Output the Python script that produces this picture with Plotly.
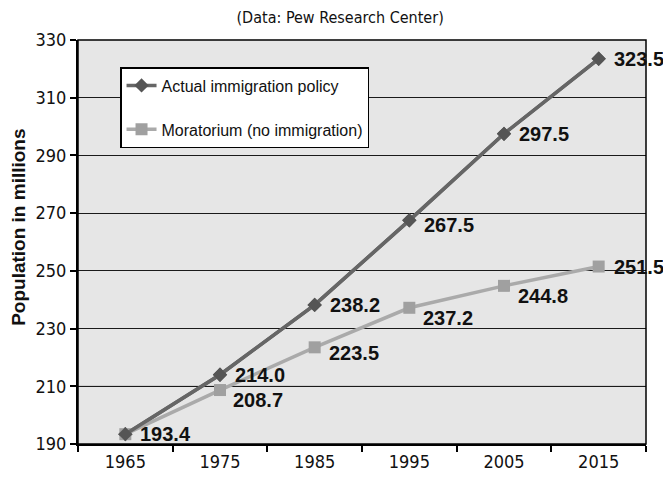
import plotly.graph_objects as go

years = ["1965", "1975", "1985", "1995", "2005", "2015"]
actual = [193.4, 214.0, 238.2, 267.5, 297.5, 323.5]
moratorium = [193.4, 208.7, 223.5, 237.2, 244.8, 251.5]
actual_labels = ["193.4", "214.0", "238.2", "267.5", "297.5", "323.5"]
moratorium_labels = ["", "208.7", "223.5", "237.2", "244.8", "251.5"]
y_ticks = [190, 210, 230, 250, 270, 290, 310, 330]

narrow = "Liberation Sans Narrow, DejaVu Sans Condensed, Arial Narrow, sans-serif"
label_font = dict(family="Arial, Liberation Sans", size=20, color="#111")

fig = go.Figure()
fig.add_trace(go.Scatter(
    x=years, y=actual, mode="lines+markers", name="Actual immigration policy",
    legendgroup="a",
    line=dict(color="#666666", width=3.5),
    marker=dict(symbol="diamond", size=11, color="#555555"),
))
fig.add_trace(go.Scatter(
    x=years, y=moratorium, mode="lines+markers", name="Moratorium (no immigration)",
    legendgroup="m",
    line=dict(color="#aaaaaa", width=3.5),
    marker=dict(symbol="square", size=12, color="#a0a0a0"),
))
# redraw actual on top
fig.add_trace(go.Scatter(
    x=years, y=actual, mode="lines+markers", showlegend=False,
    line=dict(color="#666666", width=3.5),
    marker=dict(symbol="diamond", size=11, color="#555555"),
    hoverinfo="skip",
))

annotations = []
a_shift = [(13, 0), (13, 0), (13, 0), (13, -5), (13, 0), (13, 0)]
for i, (y, t, (dx, dy)) in enumerate(zip(actual, actual_labels, a_shift)):
    annotations.append(dict(x=i, y=y, text="<b>" + t + "</b>", showarrow=False,
                            xanchor="left", yanchor="middle", xshift=dx, yshift=dy,
                            font=label_font))
m_shift = [(0, 0), (11, -10), (12, -6), (12, -10), (12, -10), (13, 0)]
for i, (y, t, (dx, dy)) in enumerate(zip(moratorium, moratorium_labels, m_shift)):
    if t:
        annotations.append(dict(x=i, y=y, text="<b>" + t + "</b>", showarrow=False,
                                xanchor="left", yanchor="middle", xshift=dx, yshift=dy,
                                font=label_font))

annotations.append(dict(text="<b>Population in millions</b>", textangle=-90,
                        xref="paper", yref="paper", x=-0.106, y=0.537,
                        xanchor="center", yanchor="middle", showarrow=False,
                        font=dict(family="Arial, Liberation Sans", size=19, color="#111")))

fig.update_layout(
    width=663, height=478,
    margin=dict(l=78, r=17, t=40, b=34, autoexpand=False),
    paper_bgcolor="white",
    plot_bgcolor="#e6e6e6",
    title=dict(text="(Data: Pew Research Center)", x=0.513, xanchor="center",
               y=0.964, yanchor="middle",
               font=dict(family=narrow, size=16, color="#111")),
    showlegend=True,
    legend=dict(
        x=0.074, y=0.933, xanchor="left", yanchor="top",
        bgcolor="white", bordercolor="black", borderwidth=1.5,
        font=dict(family="Arial, Liberation Sans", size=16, color="#111"),
        itemwidth=30, tracegroupgap=20,
    ),
    xaxis=dict(
        type="category", tickson="boundaries", ticks="outside", ticklen=6,
        tickcolor="black", tickwidth=1.5, automargin=False,
        showline=True, linecolor="black", linewidth=2,
        showgrid=False,
        tickfont=dict(family=narrow, size=18, color="#111"),
        range=[-0.5, 5.5],
    ),
    yaxis=dict(
        range=[190, 330], tickvals=y_ticks, ticks="outside", ticklen=6,
        tickcolor="black", tickwidth=1.5, automargin=False,
        showline=True, linecolor="black", linewidth=2,
        showgrid=True, gridcolor="#1a1a1a", gridwidth=1,
        tickfont=dict(family=narrow, size=18, color="#111"),
        zeroline=False,
    ),
    annotations=annotations,
    shapes=[
        dict(type="line", xref="paper", yref="y", x0=0, x1=1, y0=210, y1=210,
             line=dict(color="#8c8c8c", width=1.2), layer="between"),
        dict(type="rect", xref="paper", yref="paper", x0=0, x1=1, y0=0, y1=1,
             line=dict(color="black", width=1.5), layer="above"),
    ],
)
fig.write_html("out.html")
